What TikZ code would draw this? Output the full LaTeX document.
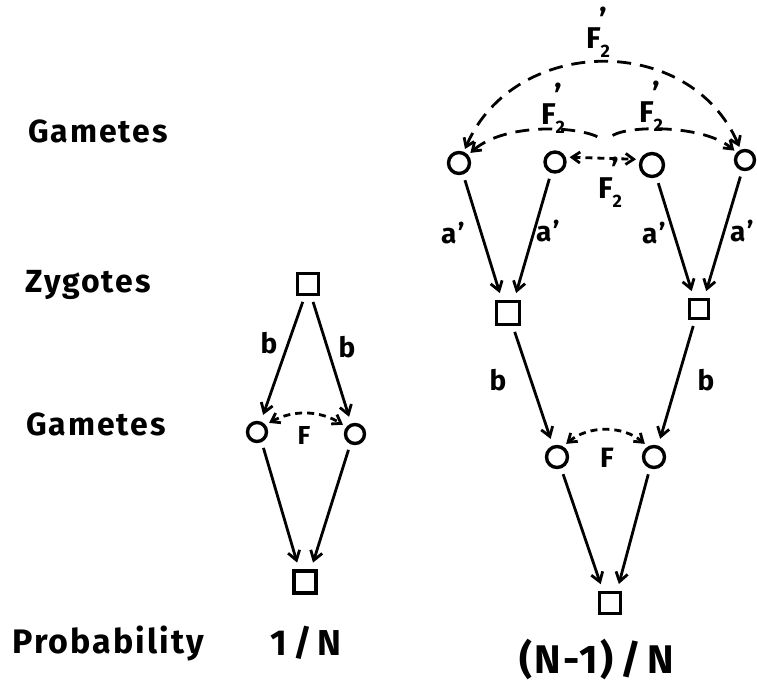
\documentclass[tikz,border=0pt]{standalone}
\usepackage{fontspec}
\setmainfont[LetterSpace=6]{Fira Sans}
\usetikzlibrary{arrows.meta}
\newcommand\Ftwo{F\rlap{\raisebox{.55em}{\kern-1pt\fontsize{32}{32}\selectfont '}}\raisebox{-.3em}{\fontsize{18}{18}\selectfont 2}}
\begin{document}
\begin{tikzpicture}[x=1pt,y=1pt,
  hb/.tip={Straight Barb[length=8pt,width=11pt]},
  circ/.style={circle,draw,line width=3.4pt,minimum size=20pt,inner sep=0pt},
  sq/.style={rectangle,draw,line width=3.4pt,minimum size=20pt,inner sep=0pt},
  arr/.style={line width=2.8pt,-{Straight Barb[length=9pt,width=12pt]},shorten <=6pt,shorten >=7pt},
  dlink/.style={line width=2.8pt,dash pattern=on 14pt off 9pt,shorten <=3pt,shorten >=3pt},
  sdlink/.style={line width=2.8pt,dash pattern=on 7pt off 5pt,shorten <=4pt,shorten >=4pt},
  rowlab/.style={font=\bfseries\fontsize{32}{38}\selectfont,inner sep=0pt,anchor=base},
  lab/.style={font=\bfseries\fontsize{28}{32}\selectfont,inner sep=0pt},
  flab/.style={font=\bfseries\fontsize{30}{34}\selectfont,inner sep=0pt},
  prob/.style={font=\bfseries\fontsize{36}{40}\selectfont,inner sep=0pt,anchor=base}
]
\useasboundingbox (0,0) rectangle (757,686);

% row labels
\node[rowlab] (rg1) at (98,543) {Gametes};
\node[rowlab] (rz) at (88,393) {Zygotes};
\node[rowlab] (rg2) at (96,251) {Gametes};
\node[rowlab,font=\bfseries\fontsize{34}{40}\selectfont] (rp) at (108,33) {Probability};

% left diagram
\node[sq,minimum size=21pt] (Lz) at (308,402) {};
\node[circ,minimum size=19pt] (Lg1) at (257,254) {};
\node[circ,minimum size=19pt] (Lg2) at (355,252) {};
\node[sq,minimum size=22pt] (Lp) at (305,104) {};
\node[lab] (Lb1) at (269,343) {b};
\node[lab] (Lb2) at (347,339) {b};
\node[lab,font=\bfseries\fontsize{26}{30}\selectfont] (LF) at (304,251) {F};
\node[prob] (Lprob) at (306,31) {1\,/\,N};

\draw[arr] (Lz.-105) -- (Lg1.70);
\draw[arr] (Lz.-75) -- (Lg2.110);
\draw[arr] (Lg1.-65) -- (Lp.115);
\draw[arr] (Lg2.-115) -- (Lp.65);
\draw[sdlink,hb-hb] (Lg1.40) to[bend left=30] (Lg2.140);

% right diagram
\node[circ,minimum size=21pt] (c1) at (459,523) {};
\node[circ] (c2) at (555,524) {};
\node[circ,minimum size=23pt] (c3) at (652,521) {};
\node[circ,minimum size=19pt] (c4) at (745,526) {};
\node[flab] (Ftop) at (598,654) {\Ftwo};
\node[flab] (Fl) at (553,578) {\Ftwo};
\node[flab] (Fr) at (651,580) {\Ftwo};
\node[flab] (Fm) at (610,504) {\Ftwo};

\coordinate (m1) at (600,548);
\coordinate (m2) at (610,549);
\draw[dlink,hb-hb] (c1) .. controls +(55,128) and +(-55,128) .. (c4);
\draw[dlink,-hb] (m1) .. controls +(-25,12) and +(45,40) .. (c1);
\draw[dlink,-hb] (m2) .. controls +(20,12) and +(-40,35) .. (c4);
\draw[sdlink,hb-hb] (c2.25) -- (c3.155);

\node[sq,minimum size=23pt] (zA) at (508,373) {};
\node[sq,minimum size=19pt] (zB) at (699,377) {};
\node[lab] (a1) at (453,453) {a'};
\node[lab] (a2) at (548,455) {a'};
\node[lab] (a3) at (654,453) {a'};
\node[lab] (a4) at (742,455) {a'};
\draw[arr] (c1.-70) -- (zA.115);
\draw[arr] (c2.-110) -- (zA.65);
\draw[arr] (c3.-70) -- (zB.115);
\draw[arr] (c4.-105) -- (zB.65);

\node[circ,minimum size=21pt] (g1) at (557,229) {};
\node[circ,minimum size=21pt] (g2) at (654,229) {};
\node[lab] (b1) at (498,306) {b};
\node[lab] (b2) at (706,306) {b};
\node[lab] (F) at (607,228) {F};
\draw[arr] (zA.-70) -- (g1.110);
\draw[arr] (zB.-110) -- (g2.70);
\draw[sdlink,hb-hb] (g1.60) to[bend left=40] (g2.120);

\node[sq,minimum size=21pt] (p) at (610,83) {};
\draw[arr] (g1.-70) -- (p.120);
\draw[arr] (g2.-110) -- (p.60);
\node[prob,font=\bfseries\fontsize{40}{44}\selectfont] (Rprob) at (597,13) {(N-1)\,/\,N};
\end{tikzpicture}
\end{document}
